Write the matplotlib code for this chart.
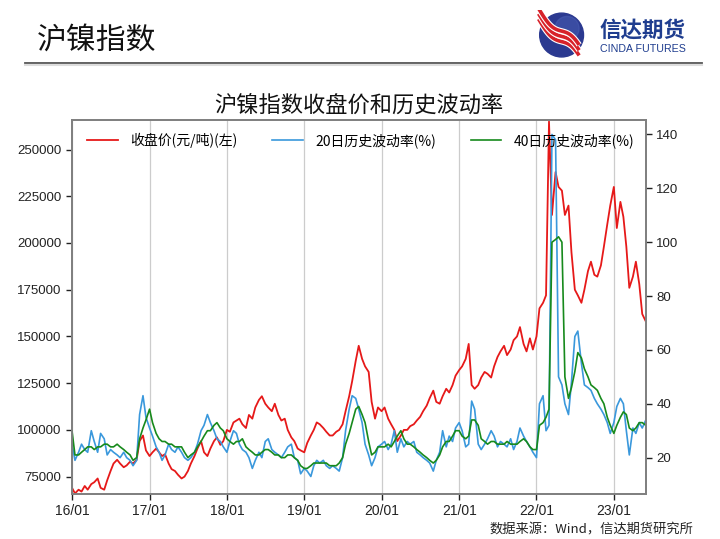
import matplotlib
matplotlib.use('Agg')
import matplotlib.pyplot as plt
import matplotlib.dates as mdates
import numpy as np
import pandas as pd

plt.rcParams['font.family'] = ['Noto Sans CJK SC', 'DejaVu Sans']
plt.rcParams['axes.unicode_minus'] = False

# 半月频（每月1日、15日）
dates = pd.date_range('2016-01-01', '2023-06-01', freq='SMS')

# 收盘价（千元/吨）
close_k = [
    69, 66, 68, 67, 70, 68, 71, 72, 74, 69, 68, 73, 78, 82, 84, 82, 80, 81, 83, 82, 84, 94, 97, 89,
    86, 88, 90, 88, 86, 87, 82, 79, 78, 76, 74, 75, 78, 82, 86, 90, 94, 88, 86, 90, 94, 96, 92, 94,
    100, 99, 104, 105, 106, 103, 101, 108, 106, 112, 116, 118, 114, 112, 110, 114, 108, 105, 106, 100, 96, 94, 90, 89,
    88, 93, 97, 100, 104, 103, 101, 99, 97, 97, 99, 100, 103, 110, 118, 126, 137, 145, 138, 134, 131, 115, 106, 112,
    110, 112, 106, 103, 100, 94, 97, 100, 100, 102, 103, 105, 107, 110, 113, 117, 121, 115, 114, 118, 122, 120, 124, 129,
    132, 134, 138, 146, 124, 122, 124, 128, 131, 130, 128, 134, 139, 142, 145, 140, 143, 148, 150, 155, 146, 142, 149, 143,
    150, 165, 168, 172, 265, 215, 238, 230, 228, 215, 220, 195, 175, 172, 168, 175, 185, 190, 183, 182, 188, 198, 210, 220,
    230, 208, 222, 214, 198, 176, 182, 190, 178, 162, 158,
]
close = [v * 1000 for v in close_k]

# 20日历史波动率(%)
vol20 = [
    25, 19, 22, 25, 23, 22, 30, 26, 22, 29, 27, 21, 23, 22, 21, 20, 22, 20, 19, 17, 19, 36, 43, 35,
    31, 28, 24, 22, 19, 21, 25, 23, 22, 24, 22, 20, 19, 20, 22, 25, 30, 32, 36, 33, 30, 27, 26, 24,
    22, 26, 30, 29, 25, 23, 22, 20, 16, 19, 22, 20, 26, 27, 23, 22, 21, 20, 22, 24, 25, 20, 19, 14,
    16, 15, 13, 17, 19, 18, 19, 17, 16, 17, 16, 15, 20, 30, 38, 43, 42, 38, 33, 25, 21, 17, 20, 24,
    25, 26, 23, 25, 30, 22, 27, 24, 26, 25, 26, 22, 21, 20, 19, 18, 15, 19, 22, 30, 24, 28, 26, 31,
    33, 30, 24, 25, 41, 38, 25, 23, 25, 27, 30, 28, 24, 26, 25, 24, 27, 23, 26, 31, 28, 26, 24, 22,
    20, 40, 43, 30, 32, 140, 138, 50, 47, 40, 36, 48, 65, 67, 55, 47, 46, 45, 42, 40, 38, 36, 33, 29,
    33, 39, 42, 40, 30, 21, 31, 29, 33, 31, 34,
]

# 40日历史波动率(%)
vol40 = [
    30, 21, 21, 22, 23, 24, 24, 23, 24, 24, 25, 25, 24, 24, 25, 24, 23, 22, 21, 19, 20, 27, 31, 34,
    38, 33, 29, 27, 26, 26, 25, 25, 24, 24, 24, 22, 20, 21, 22, 24, 26, 28, 30, 30, 32, 33, 31, 30,
    27, 26, 25, 26, 26, 27, 24, 23, 22, 21, 21, 22, 23, 23, 22, 21, 21, 20, 20, 21, 21, 20, 19, 17,
    16, 16, 17, 18, 18, 18, 18, 18, 17, 17, 17, 18, 20, 25, 29, 33, 38, 39, 36, 33, 26, 21, 22, 24,
    24, 24, 25, 24, 26, 28, 30, 27, 25, 25, 24, 23, 22, 21, 20, 19, 18, 19, 21, 24, 26, 26, 28, 30,
    30, 28, 27, 28, 34, 34, 32, 27, 26, 25, 26, 26, 25, 25, 25, 26, 25, 25, 25, 26, 27, 26, 24, 23,
    23, 32, 33, 35, 38, 100, 101, 102, 100, 50, 42, 46, 52, 59, 57, 53, 50, 47, 46, 45, 42, 40, 35, 32,
    29, 32, 35, 37, 36, 31, 30, 31, 33, 33, 32,
]

legend_labels = ['收盘价(元/吨)(左)', '20日历史波动率(%)', '40日历史波动率(%)']

fig = plt.figure(figsize=(7.2, 5.39), dpi=100)
fig.patch.set_facecolor('white')

# 页眉
fig.text(0.051, 0.926, '沪镍指数', fontsize=21.5, va='center', ha='left', color='#111111')
fig.add_artist(plt.Line2D([0.035, 0.975], [0.883, 0.883], transform=fig.transFigure,
                          color='#555555', lw=1.3))
fig.add_artist(plt.Line2D([0.035, 0.975], [0.879, 0.879], transform=fig.transFigure,
                          color='#dddddd', lw=1.5))

# logo
lax = fig.add_axes([0.745, 0.888, 0.07, 0.094])
lax.set_xlim(-1.15, 1.15)
lax.set_ylim(-1.15, 1.15)
lax.set_aspect('equal')
lax.axis('off')
lax.add_patch(plt.Circle((0, 0), 1.0, color='#2b3990'))
lax.add_patch(plt.Circle((0.25, 0.3), 0.55, color='#4a5fb5', alpha=0.5))
tt = np.linspace(-1.05, 0.8, 60)
for off in (-0.3, -0.06, 0.18):
    yy = -0.95 * tt + 0.22 * np.sin(np.pi * tt) + off
    lax.plot(tt, yy, color='white', lw=4.2, solid_capstyle='butt')
    lax.plot(tt, yy, color='#d7222a', lw=2.6, solid_capstyle='butt')
fig.text(0.833, 0.944, '信达期货', fontsize=15.5, fontweight='bold', color='#1f3d8f',
         va='center', ha='left')
fig.text(0.834, 0.909, 'CINDA FUTURES', fontsize=7.7, color='#1f3d8f', va='center', ha='left',
         family=['Liberation Sans', 'DejaVu Sans'])

# 主图
ax = fig.add_axes([0.1, 0.0835, 0.797, 0.6935])
ax2 = ax.twinx()

l1, = ax.plot(dates, close, color='#e61919', lw=1.3)
l2, = ax2.plot(dates, vol20, color='#3a98dc', lw=1.2)
l3, = ax2.plot(dates, vol40, color='#178a1c', lw=1.2)

ax.set_xlim(dates[0], dates[-1])
ax.set_ylim(65700, 265700)
ax2.set_ylim(6.5, 145.3)
ax.set_yticks(np.arange(75000, 250001, 25000))
ax2.set_yticks(np.arange(20, 141, 20))

ax.xaxis.set_major_locator(mdates.YearLocator())
ax.xaxis.set_major_formatter(mdates.DateFormatter('%y/%m'))
ax.grid(axis='x', color='#cccccc', lw=0.9)
ax.grid(axis='y', visible=False)
ax2.grid(False)

for a in (ax, ax2):
    for s in a.spines.values():
        s.set_color('#808080')
        s.set_linewidth(1.3)
    a.tick_params(colors='#222222', length=4, width=1, labelsize=9.5)
    for lab in a.get_yticklabels():
        lab.set_family(['Liberation Sans', 'DejaVu Sans'])
for lab in ax.get_xticklabels():
    lab.set_family(['Liberation Sans', 'DejaVu Sans'])
    lab.set_fontsize(10)

ax.set_title('沪镍指数收盘价和历史波动率', fontsize=16, pad=6, color='#111111')

ax2.legend([l1, l2, l3], legend_labels, loc='upper left', bbox_to_anchor=(0.005, 1.0),
           ncol=3, frameon=False, fontsize=10, handlelength=2.2, handletextpad=0.9,
           columnspacing=2.5)

fig.text(0.68, 0.028, '数据来源：Wind，信达期货研究所', fontsize=9.5, va='top', ha='left',
         color='#222222')

plt.savefig('out.png', dpi=100)
